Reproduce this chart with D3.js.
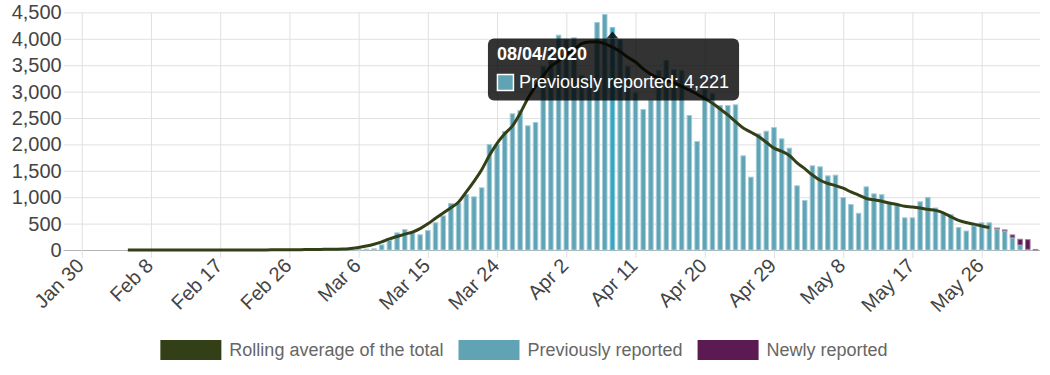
<!DOCTYPE html>
<html>
<head>
<meta charset="utf-8">
<script src="https://cdn.jsdelivr.net/npm/d3@7"></script>
<style>
  body { margin: 0; background: #fff; }
  svg { display: block; font-family: "Liberation Sans", Arial, Helvetica, sans-serif; }
</style>
</head>
<body>
<svg id="chart" width="1050" height="375"></svg>
<script>
// daily values, first bar is Jan 30 2020, last is Jun 2 2020
const startDate = "2020-01-30";

const previouslyReported = [
  // Jan 30-31
  0, 2,
  // Feb
  0, 0, 0, 0, 0, 0, 0, 1, 0, 1, 0, 0, 0, 0, 0, 0, 0, 0, 0, 0,
  0, 1, 2, 5, 4, 6, 8, 9, 12,
  // Mar
  8, 10, 12, 15, 18, 22, 25, 32, 107, 189, 334, 398, 334, 297, 379, 524,
  655, 890, 900, 1061, 1017, 1187, 2008, 2008, 2254, 2589, 2652, 2362, 2424, 3485, 3850,
  // Apr
  4078, 4002, 4028, 3314, 3250, 4318, 4470, 4221, 3996, 3491, 2987, 2670, 2850, 3409, 3599,
  3422, 3409, 2557, 2064, 3060, 2967, 2746, 2746, 2759, 1793, 1389, 2209, 2260, 2330, 2115,
  // May
  1938, 1225, 947, 1604, 1585, 1414, 1427, 1004, 871, 705, 1206, 1073, 1057, 905, 850, 619,
  619, 922, 1007, 805, 694, 679, 436, 369, 467, 524, 524, 400, 360, 240, 95,
  // Jun 1-2
  13, 0
];

const newlyDates = ["2020-05-28", "2020-05-29", "2020-05-30", "2020-05-31", "2020-06-01", "2020-06-02"];
const newlyReported = [25, 30, 55, 118, 192, 20];

// rolling average line runs Feb 5 - May 27
const rollingStart = "2020-02-05";
const rollingAverage = [
  // Feb 5-29
  0, 0, 0, 0, 0, 0, 0, 0, 0, 0, 0, 0, 0, 0, 0, 1, 1, 2, 2, 3, 4, 5, 6, 8, 9,
  // Mar
  11, 13, 15, 18, 30, 48, 75, 110, 155, 210, 255, 300, 340, 405, 495, 600,
  700, 800, 910, 1100, 1300, 1520, 1790, 2020, 2200, 2350, 2590, 2870, 3100, 3300, 3480,
  // Apr
  3580, 3700, 3790, 3910, 3940, 3945, 3910, 3840, 3760, 3650, 3560, 3430, 3330, 3260, 3220,
  3170, 3100, 3030, 2950, 2870, 2780, 2670, 2560, 2430, 2310, 2230, 2150, 2040, 1930, 1870,
  // May 1-27
  1790, 1650, 1540, 1420, 1320, 1260, 1220, 1170, 1100, 1040, 975, 950, 925, 890, 860, 830,
  815, 795, 770, 750, 705, 630, 560, 520, 490, 455, 425
];

const yTicks = [0, 500, 1000, 1500, 2000, 2500, 3000, 3500, 4000, 4500];
const xTickLabels = ["Jan 30", "Feb 8", "Feb 17", "Feb 26", "Mar 6", "Mar 15", "Mar 24",
                     "Apr 2", "Apr 11", "Apr 20", "Apr 29", "May 8", "May 17", "May 26"];

const hoverDate = "2020-04-08";

const legendItems = ["Rolling average of the total", "Previously reported", "Newly reported"];
const colors = { rolling: "#333f17", previous: "#60a3b5", newly: "#5c1a53" };

// ---------------------------------------------------------------------------
const parse = d3.utcParse("%Y-%m-%d");
const start = parse(startDate);
const plotLeft = 81.7, plotRight = 1035.5, plotTop = 12.4, plotBottom = 250, gridRight = 1040;

const newMap = new Map(newlyDates.map((d, i) => [+parse(d), newlyReported[i]]));
const data = previouslyReported.map((v, i) => {
  const date = d3.utcDay.offset(start, i);
  return { date, prev: v, newly: newMap.get(+date) || 0 };
});
const rStart = parse(rollingStart);
const rolling = rollingAverage.map((v, i) => ({ date: d3.utcDay.offset(rStart, i), value: v }));

const x = d3.scaleUtc()
    .domain([data[0].date, data[data.length - 1].date])
    .range([plotLeft, plotRight]);
const y = d3.scaleLinear()
    .domain([0, 4500])
    .range([plotBottom, plotTop]);

const svg = d3.select("#chart");

// horizontal grid + y labels
const gy = svg.append("g")
    .attr("transform", `translate(${plotLeft},0)`)
    .call(d3.axisLeft(y).tickValues(yTicks).tickSize(-(gridRight - plotLeft)).tickPadding(20)
      .tickFormat(d3.format(",")));
gy.select(".domain").remove();
gy.selectAll(".tick line")
    .attr("x1", -18)
    .attr("stroke", d => d === 0 ? "#b3b3b3" : "#e0e0e0");
gy.selectAll(".tick text")
    .attr("font-size", 20)
    .attr("font-family", "Liberation Sans, Arial, sans-serif")
    .attr("fill", "#444");

// vertical grid + x labels
const tickDates = xTickLabels.map(l => d3.utcParse("%b %d %Y")(l + " 2020"));
const gx = svg.append("g")
    .attr("transform", `translate(0,${plotBottom})`)
    .call(d3.axisBottom(x).tickValues(tickDates).tickSize(-(plotBottom - plotTop))
      .tickFormat((d, i) => xTickLabels[i]));
gx.select(".domain").remove();
gx.selectAll(".tick line")
    .attr("y1", 8)
    .attr("stroke", "#e0e0e0");
gx.selectAll(".tick text")
    .attr("font-size", 20)
    .attr("font-family", "Liberation Sans, Arial, sans-serif")
    .attr("fill", "#444")
    .attr("text-anchor", "end")
    .attr("x", 0)
    .attr("y", 0)
    .attr("dy", "0.35em")
    .attr("transform", "translate(-2,12) rotate(-45)");

// bars
const barW = 5.5;
const hovered = +parse(hoverDate);
const bars = svg.append("g");
bars.selectAll(".prev")
  .data(data.filter(d => d.prev > 0))
  .join("rect")
    .attr("class", "prev")
    .attr("x", d => x(d.date) - barW / 2 + 0.5)
    .attr("width", barW - 1)
    .attr("y", d => y(d.prev) + 0.5)
    .attr("height", d => Math.max(0, y(0) - y(d.prev) - 0.5))
    .attr("fill", d => +d.date === hovered ? "#3aa5c2" : colors.previous)
    .attr("stroke", d => +d.date === hovered ? "#7cc6da" : "#a3cdd8")
    .attr("stroke-width", 1);

bars.selectAll(".newly")
  .data(data.filter(d => d.newly > 0))
  .join("rect")
    .attr("class", "newly")
    .attr("x", d => x(d.date) - barW / 2 + 0.5)
    .attr("width", barW - 1)
    .attr("y", d => y(d.prev + d.newly) + 0.5)
    .attr("height", d => Math.max(0, y(d.prev) - y(d.prev + d.newly) - 0.5))
    .attr("fill", colors.newly)
    .attr("stroke", "#a07a9a")
    .attr("stroke-width", 1);

// rolling average
svg.append("path")
    .datum(rolling)
    .attr("fill", "none")
    .attr("stroke", colors.rolling)
    .attr("stroke-width", 3)
    .attr("stroke-linejoin", "round")
    .attr("d", d3.line().x(d => x(d.date)).y(d => y(d.value)).curve(d3.curveMonotoneX));

// tooltip
const hd = data.find(d => +d.date === hovered);
const cx = x(hd.date);
const tip = svg.append("g");
const tipBox = tip.append("rect")
    .attr("y", 38.5).attr("height", 62).attr("rx", 6)
    .attr("fill", "rgba(0,0,0,0.8)");
tip.append("path")
    .attr("d", `M${cx - 6},38.5L${cx},31.5L${cx + 6},38.5Z`)
    .attr("fill", "rgba(0,0,0,0.8)");
const tipLeft = cx - 124.5;
const title = tip.append("text")
    .attr("x", tipLeft + 9).attr("y", 60)
    .attr("font-size", 18).attr("font-weight", "bold").attr("fill", "#fff")
    .text(d3.utcFormat("%d/%m/%Y")(hd.date));
tip.append("rect")
    .attr("x", tipLeft + 9.5).attr("y", 74.5).attr("width", 16).attr("height", 16)
    .attr("fill", colors.previous).attr("stroke", "#fff").attr("stroke-width", 1.5);
const body = tip.append("text")
    .attr("x", tipLeft + 31).attr("y", 88)
    .attr("font-size", 18).attr("fill", "#fff")
    .text(`Previously reported: ${d3.format(",")(hd.prev)}`);
const tipW = Math.max(title.node().getComputedTextLength() + 9,
                      body.node().getComputedTextLength() + 31) + 10;
tipBox.attr("x", tipLeft).attr("width", tipW);

// legend
const legendColors = [colors.rolling, colors.previous, colors.newly];
const boxW = 61, gap = 8, pad = 15;
const lg = svg.append("g");
const items = lg.selectAll("g").data(legendItems).join("g");
items.append("rect")
    .attr("width", boxW).attr("height", 20).attr("y", 340)
    .attr("fill", (d, i) => legendColors[i]);
items.append("text")
    .attr("x", boxW + gap).attr("y", 350).attr("dy", "0.35em")
    .attr("font-size", 18).attr("fill", "#666")
    .text(d => d);
const widths = items.nodes().map(n => boxW + gap + n.querySelector("text").getComputedTextLength());
const total = d3.sum(widths) + pad * (widths.length - 1);
let pos = 524 - total / 2;
items.attr("transform", (d, i) => {
  const t = `translate(${pos},0)`;
  pos += widths[i] + pad;
  return t;
});
</script>
</body>
</html>
